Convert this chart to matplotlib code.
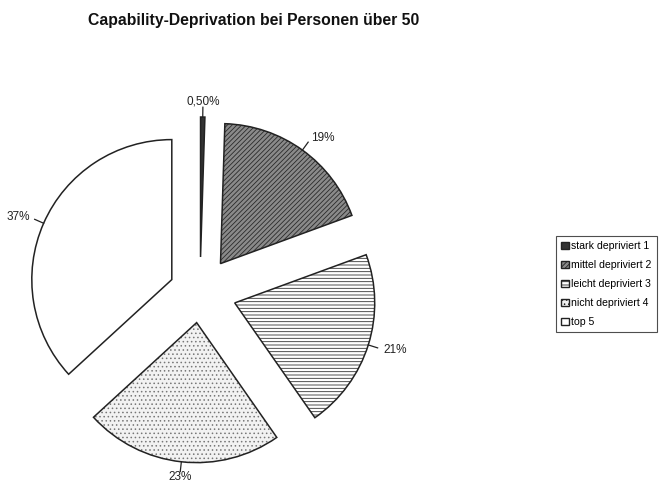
import numpy as np
import matplotlib
matplotlib.use('Agg')
import matplotlib.pyplot as plt
import matplotlib.patches as mpatches

plt.rcParams['font.family'] = ['Liberation Sans', 'DejaVu Sans']
plt.rcParams['hatch.linewidth'] = 0.6

# data
categories = ['stark depriviert 1', 'mittel depriviert 2', 'leicht depriviert 3',
              'nicht depriviert 4', 'top 5']
values = [0.5, 19, 21, 23, 37]
pct_labels = ['0,50%', '19%', '21%', '23%', '37%']
explode = [0.25, 0.25, 0.26, 0.22, 0.22]

faces = ['#333333', '#8a8a8a', 'white', '#f2f2f2', 'white']
hatch_col = ['#333333', '#2a2a2a', '#333333', '#777777', 'white']
hatches = [None, '///////', '-----', '....', None]

fig = plt.figure(figsize=(6.68, 4.86), dpi=100)
ax = fig.add_axes([4/668, -2/486, 392/668, 392/486])

wedges, _ = ax.pie(values, explode=explode, startangle=90, counterclock=False,
                   colors=faces, normalize=True)
for w, h, hc in zip(wedges, hatches, hatch_col):
    w.set_edgecolor(hc)
    w.set_linewidth(0)
    if h:
        w.set_hatch(h)
    # outline
    ax.add_patch(mpatches.Wedge(w.center, w.r, w.theta1, w.theta2, fill=False,
                                ec='#222222', lw=1.1))

# percentage labels with leader lines
for w, lab in zip(wedges, pct_labels):
    mid = np.deg2rad((w.theta1 + w.theta2) / 2)
    cx, cy = w.center
    p0 = (cx + w.r*np.cos(mid), cy + w.r*np.sin(mid))
    p1 = (cx + 1.07*w.r*np.cos(mid), cy + 1.07*w.r*np.sin(mid))
    pt = (cx + 1.11*w.r*np.cos(mid), cy + 1.11*w.r*np.sin(mid))
    ax.plot([p0[0], p1[0]], [p0[1], p1[1]], color='#222222', lw=0.9)
    c = np.cos(mid)
    ha = 'center' if abs(c) < 0.2 else ('left' if c > 0 else 'right')
    ax.text(pt[0], pt[1], lab, ha=ha, va='center', fontsize=8.5, color='#222222')

ax.set_xlim(-1.4, 1.4)
ax.set_ylim(-1.4, 1.4)
ax.set_aspect('equal')
ax.axis('off')

fig.text(88/668, 1 - 20/486, 'Capability-Deprivation bei Personen über 50',
         fontsize=11.3, fontweight='bold', va='center', ha='left', color='#111111')

handles = []
for f, h, hc in zip(faces, hatches, hatch_col):
    p = mpatches.Patch(facecolor=f, edgecolor='#222222', hatch=h, lw=1.0)
    handles.append(p)
leg = fig.legend(handles, categories, loc='upper left',
                 bbox_to_anchor=(556/668, 1 - 236/486), fontsize=7.6,
                 frameon=True, fancybox=False, edgecolor='#222222',
                 handlelength=0.75, handleheight=0.75, handletextpad=0.2,
                 labelspacing=0.85, borderpad=0.5, borderaxespad=0)
leg.get_frame().set_linewidth(0.8)

fig.savefig('out.png', dpi=100)
